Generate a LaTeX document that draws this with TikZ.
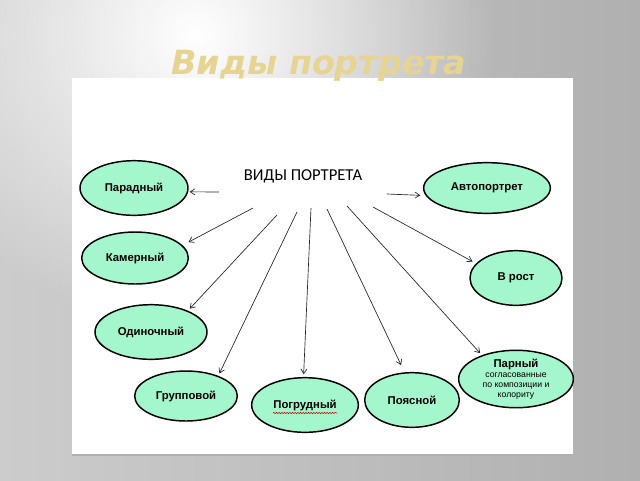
\documentclass[tikz,border=0pt]{standalone}
\usepackage{fontspec}
\setmainfont{Liberation Sans}
\newfontfamily\titlefont{DejaVu Sans}
\newfontfamily\capfont{Carlito}
\usetikzlibrary{shapes.geometric,arrows.meta,decorations.pathmorphing,fadings}
\definecolor{mint}{RGB}{164,246,204}
\definecolor{bgleft}{RGB}{204,204,204}
\definecolor{bgright}{RGB}{176,176,176}
\definecolor{gold}{RGB}{231,212,146}
\tikzfading[name=glowfade,inner color=transparent!0,outer color=transparent!100]

\begin{document}
\begin{tikzpicture}[x=0.75pt,y=-0.75pt,
    kind/.style={ellipse,draw=black,line width=1.1pt,fill=mint,inner sep=0pt,
        font=\bfseries\fontsize{8.5}{10}\selectfont},
    arr/.style={-{Straight Barb[length=3.5pt,width=4.5pt]},draw=gray!30!black,line width=0.5pt}]
    \useasboundingbox (0,0) rectangle (640,480);
    % background and slide panel
    \shade[left color=bgleft,right color=bgright] (0,0) rectangle (640,480);
    \begin{scope}
        \clip (0,0) rectangle (640,480);
        \fill[white,path fading=glowfade] (195,35) circle (300);
    \end{scope}
    \fill[gray!60] (72,80) rectangle (575,456);
    \fill[white] (72,78) rectangle (573,454);
    \node[font=\titlefont\bfseries\itshape\fontsize{25}{30}\selectfont,text=gold,anchor=base] (title) at (319,74) {Виды портрета};

    \node[font=\capfont\fontsize{12.5}{14}\selectfont] (vid) at (303,176) {ВИДЫ ПОРТРЕТА};

    \node[kind,minimum width=81pt,minimum height=41pt] (parad) at (134,188) {Парадный};
    \node[kind,minimum width=80pt,minimum height=39pt] (kam)   at (135,258) {Камерный};
    \node[kind,minimum width=84pt,minimum height=41pt] (odin)  at (151,332) {Одиночный};
    \node[kind,minimum width=77pt,minimum height=37.5pt] (grup)  at (186,396) {Групповой};
    \node[kind,minimum width=80pt,minimum height=41pt] (pogr)  at (305,405) {Погрудный};
    \node[kind,minimum width=71pt,minimum height=41pt] (poyas) at (412,400) {Поясной};
    \node[kind,minimum width=86pt,minimum height=40pt,align=center,
        font=\fontsize{6.5}{7.6}\selectfont] (par) at (516,379)
        {{\bfseries\fontsize{8.5}{9}\selectfont Парный}\\согласованные\\по композиции и\\колориту};
    \node[kind,minimum width=69pt,minimum height=41pt] (vrost) at (516,278) {В рост};
    \node[kind,minimum width=95pt,minimum height=38pt] (auto)  at (487,188) {Автопортрет};

    % free ends of the rays
    \coordinate (v1) at (219,192);
    \coordinate (v2) at (387,194);
    \coordinate (v3) at (253,208);
    \coordinate (v4) at (277,215);
    \coordinate (v5) at (297,212);
    \coordinate (v6) at (311,208);
    \coordinate (v7) at (327,209);
    \coordinate (v8) at (347,206);
    \coordinate (v9) at (373,207);

    \draw[arr,shorten >=1pt] (v1) -- (parad.-4);
    \draw[arr,shorten >=4pt] (v2) -- (auto.187);
    \draw[arr,shorten >=5pt] (v3) -- (kam.15);
    \draw[arr,shorten >=2pt] (v4) -- (odin.30);
    \draw[arr,shorten >=2pt] (v5) -- (grup.32);
    \draw[arr,shorten >=2pt] (v6) -- (pogr.93);
    \draw[arr,shorten >=6pt] (v7) -- (poyas.105);
    \draw[arr,shorten >=2pt] (v8) -- (par.145);
    \draw[arr,shorten >=3pt] (v9) -- (vrost.160);

    % spell-check squiggle
    \draw[red!85!black,line width=0.4pt,decorate,decoration={snake,amplitude=0.5pt,segment length=2pt}]
        ([xshift=-24pt,yshift=-6pt]pogr.center) -- ([xshift=24pt,yshift=-6pt]pogr.center);
\end{tikzpicture}
\end{document}
